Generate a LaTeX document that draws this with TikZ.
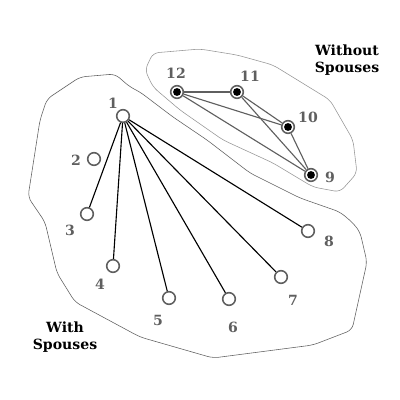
\documentclass[tikz,border=0pt]{standalone}
\usepackage{fontspec}
\setmainfont{DejaVu Serif}
\usetikzlibrary{%
	calc,%
	positioning,%
}
\definecolor{cgray}{RGB}{95, 95, 95}
\definecolor{cgraylight}{RGB}{150, 150, 150}
\tikzset{
	nodes={align=center},%
	person/.style={%
			draw=cgray,%
			circle,%
			line width=1.1pt,%
			inner sep=0pt,%
			minimum size=9pt,%
			fill=white},%
	single/.style={%
			person,%
			path picture={\fill[black] (path picture bounding box.center) circle (2.8pt);}},%
	num/.style={%
			text=cgray,%
			font={\bfseries}},%
	grouplabel/.style={%
			font={\bfseries},%
			align=center},%
	spouseedge/.style={%
			black,%
			line width=0.8pt},%
	singleedge/.style={%
			cgray,%
			line width=0.8pt},%
}

\begin{document}
\begin{tikzpicture}[x=0.025cm, y=-0.025cm]%
	\useasboundingbox (0,0) rectangle (400,400);

	% group outlines
	\draw[cgray, line width=0.4pt, rounded corners=4pt] (47,99) -- (80,77) -- (115,74) -- (130,87) -- (140,92) -- (173,117) -- (207,140) -- (250,173) -- (300,198) -- (340,212) -- (353,223) -- (360,232) -- (367,262) -- (352,330) -- (313,345) -- (213,358) -- (140,337) -- (75,302) -- (57,273) -- (45,222) -- (28,197) -- (40,120) -- cycle;
	\draw[cgraylight, line width=0.4pt, rounded corners=4pt] (153,53) -- (200,49) -- (237,55) -- (273,65) -- (330,100) -- (353,140) -- (357,173) -- (340,192) -- (313,187) -- (273,163) -- (223,140) -- (180,110) -- (153,87) -- (145,70) -- cycle;

	% people
	\node[person] (p1) at (123,116) {};
	\node[person] (p2) at (94,159) {};
	\node[person] (p3) at (87,214) {};
	\node[person] (p4) at (113,266) {};
	\node[person] (p5) at (169,298) {};
	\node[person] (p6) at (229,299) {};
	\node[person] (p7) at (281,277) {};
	\node[person] (p8) at (308,231) {};
	\node[single] (p9) at (311,175) {};
	\node[single] (p10) at (288,127) {};
	\node[single] (p11) at (237,92) {};
	\node[single] (p12) at (177,92) {};

	% numbers
	\node[num] (n1) at (113,103) {1};
	\node[num] (n2) at (76,160) {2};
	\node[num] (n3) at (70,230) {3};
	\node[num] (n4) at (100,284) {4};
	\node[num] (n5) at (158,320) {5};
	\node[num] (n6) at (233,327) {6};
	\node[num] (n7) at (293,300) {7};
	\node[num] (n8) at (329,241) {8};
	\node[num] (n9) at (330,177) {9};
	\node[num] (n10) at (308,117) {10};
	\node[num] (n11) at (250,76) {11};
	\node[num] (n12) at (176,73) {12};

	\node[grouplabel] (without) at (347,60) {Without\\Spouses};
	\node[grouplabel] (with) at (65,337) {With\\Spouses};

	% edges
	\foreach \i in {3,...,8}
		\draw[spouseedge] (p1) -- (p\i);
	\draw[singleedge] (p12) -- (p11);
	\draw[singleedge] (p12) -- (p10);
	\draw[singleedge] (p12) -- (p9);
	\draw[singleedge] (p11) -- (p10);
	\draw[singleedge] (p11) -- (p9);
	\draw[singleedge] (p10) -- (p9);
\end{tikzpicture}
\end{document}
